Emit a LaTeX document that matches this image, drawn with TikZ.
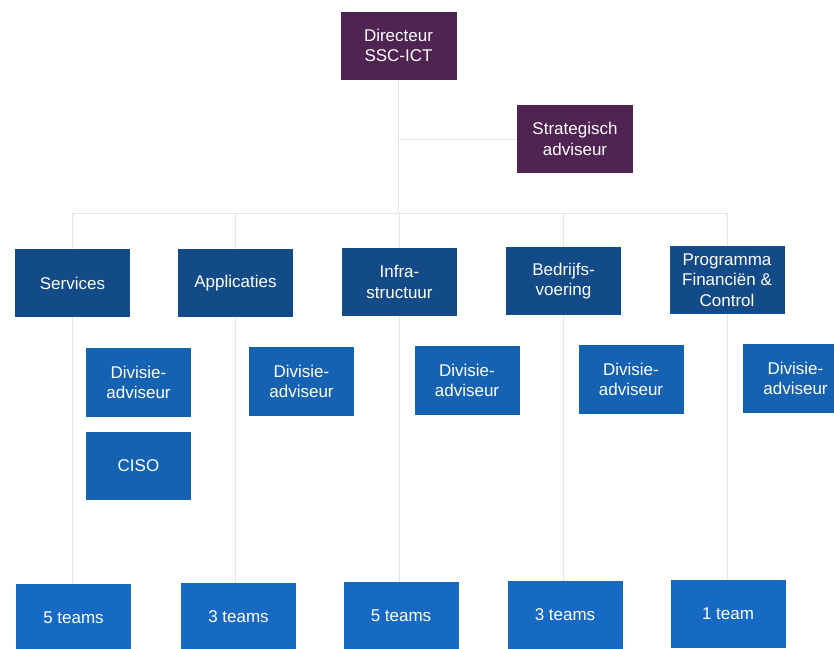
\documentclass[tikz,border=0pt]{standalone}
\usepackage{fontspec}
\setmainfont{Liberation Sans}
\usepackage{xcolor}
\usepackage{tikz}
\usetikzlibrary{arrows.meta,positioning,shapes}

\definecolor{dirpurple}{HTML}{4F2352}
\definecolor{headblue}{HTML}{124B88}
\definecolor{advblue}{HTML}{1562B3}
\definecolor{teamblue}{HTML}{176AC4}
\definecolor{linegray}{HTML}{E6E6E6}

\begin{document}
\begin{tikzpicture}
[x=1pt,y=-1pt,
 box/.style={rectangle,text=white,align=center,inner sep=2pt,
   font=\fontsize{17}{20.5}\selectfont},
 lead/.style={box,fill=dirpurple,minimum width=116pt,minimum height=68pt},
 head/.style={box,fill=headblue,minimum width=115pt,minimum height=68pt},
 adv/.style={box,fill=advblue,minimum width=105pt,minimum height=69pt},
 team/.style={box,fill=teamblue,minimum width=115pt,minimum height=68pt},
 link/.style={draw=linegray,line width=1pt}];
\path[use as bounding box] (0,0) rectangle (834,648);
\clip (0,0) rectangle (834,648);

% management
\node[lead] (dir) at (398.5,45.5) {Directeur\\SSC-ICT};
\node[lead] (strat) at (575,139) {Strategisch\\adviseur};

% divisions
\node[head] (svc) at (72.5,283) {Services};
\node[head] (app) at (235.5,283) {Applicaties};
\node[head] (infra) at (399.5,282) {Infra-\\structuur};
\node[head] (bedr) at (563.5,281) {Bedrijfs-\\voering};
\node[head] (prog) at (727,280) {Programma\\Financiën \&\\Control};

% advisers
\node[adv] (advsvc) at (138.5,382.5) {Divisie-\\adviseur};
\node[adv] (advapp) at (301.5,381.5) {Divisie-\\adviseur};
\node[adv] (advinfra) at (467,380.5) {Divisie-\\adviseur};
\node[adv] (advbedr) at (631,379.5) {Divisie-\\adviseur};
\node[adv] (advprog) at (795.5,378.5) {Divisie-\\adviseur};
\node[adv,minimum height=68pt] (ciso) at (138.5,466) {CISO};

% teams
\node[team] (tsvc) at (73.5,618) {5 teams};
\node[team] (tapp) at (238.5,617) {3 teams};
\node[team] (tinfra) at (401,616) {5 teams};
\node[team] (tbedr) at (565,615) {3 teams};
\node[team] (tprog) at (728,614) {1 team};

\begin{scope}[on background layer/.try]
\draw[link] (dir.south) -- ++(0,134) coordinate (bus);
\draw[link] (strat.west) -- (strat.west -| dir.south);
\draw[link] (bus) -| (svc.north);
\draw[link] (bus) -| (prog.north);
\foreach \h/\t in {svc/tsvc,app/tapp,infra/tinfra,bedr/tbedr,prog/tprog}
  \draw[link] (bus -| \h.north) -- (\h.north) (\h.south) -- (\h.south |- \t.north);
\end{scope}
\end{tikzpicture}
\end{document}
